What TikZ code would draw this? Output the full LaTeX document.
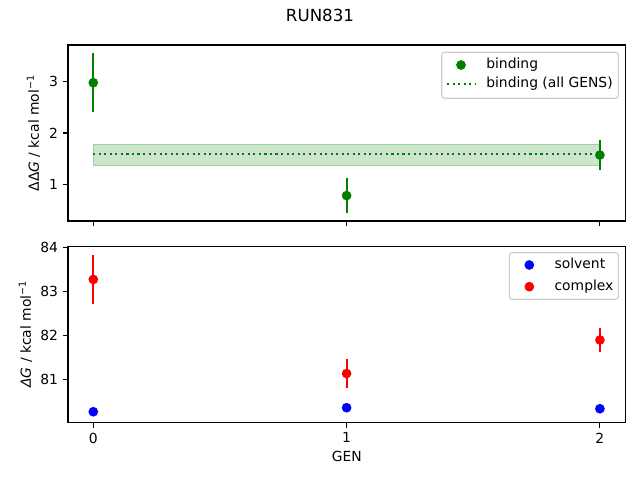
\documentclass[tikz,border=0pt]{standalone}
\usepackage{fontspec}
\setmainfont{DejaVu Sans}
\usetikzlibrary{positioning}
\definecolor{mplgreen}{HTML}{008000}
\definecolor{mplblue}{HTML}{0000FF}
\definecolor{mplred}{HTML}{FF0000}
\definecolor{legendedge}{HTML}{CCCCCC}
\tikzset{
	spine/.style={line width=0.8pt},
	tick/.style={line width=0.8pt},
	yticklabel/.style={anchor=east, inner sep=0pt, xshift=-7pt},
	xticklabel/.style={anchor=north, inner sep=0pt, yshift=-7pt},
	errbar/.style={line width=1.5pt},
	legendbox/.style={draw=legendedge, line width=0.8pt, fill=white, fill opacity=0.8, rounded corners=2pt},
	legendtext/.style={anchor=base west, inner sep=0pt},
}

\begin{document}
\begin{tikzpicture}[x=0.72pt, y=0.72pt]
	\useasboundingbox[fill=white] (0,0) rectangle (640,480);
	\node[anchor=base, inner sep=0pt, font=\fontsize{12}{14}\selectfont] (title) at (320,458.3) {RUN831};

	% upper panel
	\begin{scope}[shift={(93.3,244.4)}, x=182.38pt, y=36.94pt]
		\fill[mplgreen, opacity=0.2] (0,1.36) rectangle (2,1.785);
		\draw[mplgreen, opacity=0.2, line width=0.5pt] (0,1.36) rectangle (2,1.785);
		\draw[mplgreen, line width=1.5pt, dash pattern=on 1.5pt off 2.475pt] (0,1.59) -- (2,1.59);
		\foreach \g/\v/\e in {0/2.98/0.57, 1/0.78/0.34, 2/1.57/0.29} {
			\draw[errbar, mplgreen] (\g,\v-\e) -- (\g,\v+\e);
			\fill[mplgreen] (\g,\v) circle[radius=3.5pt];
		}
		\draw[spine] (-0.1,0.2846) rectangle (2.1,3.715);
		\foreach \v in {1,2,3} {
			\draw[tick] (-0.1,\v) -- ++(-3.5pt,0);
			\node[yticklabel] at (-0.1,\v) {\v};
		}
		\foreach \g in {0,1,2}
			\draw[tick] (\g,0.2846) -- ++(0,-3.5pt);
	\end{scope}
	\node[rotate=90, anchor=base, inner sep=0pt] (ylabtop) at (39,347) {ΔΔ\textit{G} / kcal mol\textsuperscript{−1}};

	% lower panel
	\begin{scope}[shift={(93.3,-3479.5)}, x=182.38pt, y=31.82pt]
		\foreach \g/\v/\e in {0/83.27/0.56, 1/81.14/0.33, 2/81.90/0.28} {
			\draw[errbar, mplred] (\g,\v-\e) -- (\g,\v+\e);
			\fill[mplred] (\g,\v) circle[radius=3.5pt];
		}
		\foreach \g/\v in {0/80.276, 1/80.367, 2/80.344}
			\fill[mplblue] (\g,\v) circle[radius=3.5pt];
		\draw[spine] (-0.1,80.027) rectangle (2.1,84.016);
		\foreach \v in {81,82,83,84} {
			\draw[tick] (-0.1,\v) -- ++(-3.5pt,0);
			\node[yticklabel] at (-0.1,\v) {\v};
		}
		\foreach \g in {0,1,2} {
			\draw[tick] (\g,80.027) -- ++(0,-3.5pt);
			\node[xticklabel] at (\g,80.027) {\g};
		}
	\end{scope}
	\node[rotate=90, anchor=base, inner sep=0pt] (ylabbot) at (31,146) {\textit{ΔG} / kcal mol\textsuperscript{−1}};
	\node[anchor=base, inner sep=0pt] (xlab) at (346.9,18) {GEN};

	% legends
	\draw[legendbox] (441.7,381.7) rectangle (618.3,427.7);
	\fill[mplgreen] (461,415) circle[radius=3.5pt];
	\draw[mplgreen, line width=1.5pt, dash pattern=on 1.5pt off 2.475pt] (447,396) -- (475,396);
	\node[legendtext] (lbind) at (486,411.6) {binding};
	\node[legendtext] (lall) at (486,392.6) {binding (all GENS)};

	\draw[legendbox] (509.3,180.7) rectangle (618.3,227.3);
	\fill[mplblue] (529.3,215) circle[radius=3.5pt];
	\fill[mplred] (529.3,193.3) circle[radius=3.5pt];
	\node[legendtext] (lsolv) at (554.3,211.6) {solvent};
	\node[legendtext] (lcomp) at (554.3,189.9) {complex};
\end{tikzpicture}
\end{document}
